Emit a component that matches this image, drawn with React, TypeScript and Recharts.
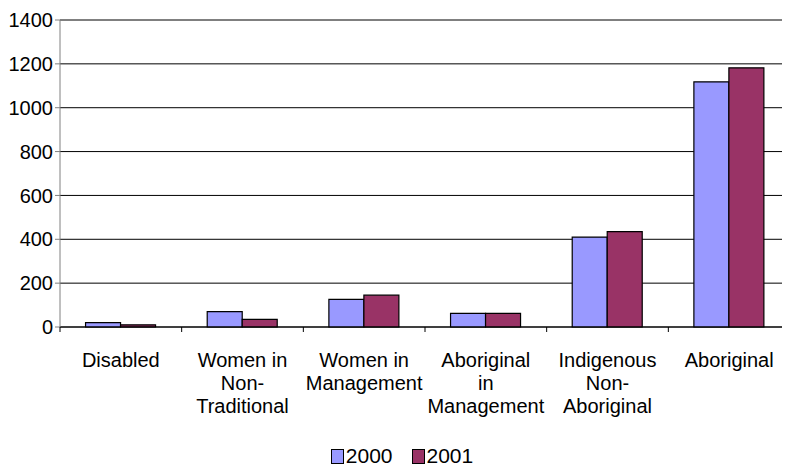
import { BarChart, Bar, XAxis, YAxis, CartesianGrid, Legend } from "recharts";

const categories = [
  "Disabled",
  "Women in Non-Traditional",
  "Women in Management",
  "Aboriginal in Management",
  "Indigenous Non-Aboriginal",
  "Aboriginal",
];
// how each category label breaks into lines under the axis
const categoryLines = [
  ["Disabled"],
  ["Women in", "Non-", "Traditional"],
  ["Women in", "Management"],
  ["Aboriginal", "in", "Management"],
  ["Indigenous", "Non-", "Aboriginal"],
  ["Aboriginal"],
];
const values2000 = [20, 70, 126, 62, 410, 1118];
const values2001 = [10, 35, 145, 62, 435, 1182];
const yTicks = [0, 200, 400, 600, 800, 1000, 1200, 1400];

const data = categories.map((name, i) => ({
  name,
  y2000: values2000[i],
  y2001: values2001[i],
}));

const FONT = "'Liberation Sans', Arial, sans-serif";
const W = 790;
const H = 469;
const PLOT_LEFT = 60;
const HALF_BAND = (W - PLOT_LEFT) / categories.length / 2;

const CategoryTick = (props: any) => {
  const { x, y, index, payload } = props;
  const lines: string[] = categoryLines[index] ?? [payload.value];
  const last = index === categories.length - 1;
  return (
    <g>
      <line x1={x - HALF_BAND} x2={x - HALF_BAND} y1={y} y2={y + 5} stroke="#000" />
      {last && <line x1={x + HALF_BAND} x2={x + HALF_BAND} y1={y} y2={y + 5} stroke="#000" />}
      <text x={x} y={y + 40} textAnchor="middle" fontSize={20} fontFamily={FONT} fill="#000">
        {lines.map((l, i) => (
          <tspan key={i} x={x} dy={i === 0 ? 0 : 23}>
            {l}
          </tspan>
        ))}
      </text>
    </g>
  );
};

const LegendBox = () => {
  const items = [
    { label: "2000", color: "#9999FF" },
    { label: "2001", color: "#993366" },
  ];
  return (
    <div
      style={{
        display: "flex",
        justifyContent: "center",
        gap: 19,
        fontFamily: FONT,
        fontSize: 21,
        lineHeight: "24px",
        height: 24,
        paddingLeft: 14,
      }}
    >
      {items.map((it) => (
        <div key={it.label} style={{ display: "flex", alignItems: "center", height: 24 }}>
          <span
            style={{
              display: "inline-block",
              width: 11,
              height: 13,
              background: it.color,
              border: "1px solid #000",
              marginRight: 2,
            }}
          />
          <span>{it.label}</span>
        </div>
      ))}
    </div>
  );
};

export default function App() {
  return (
    <div style={{ margin: "-8px 0 0 -8px", width: W, height: H, background: "#fff" }}>
      <BarChart
        width={W}
        height={H}
        data={data}
        margin={{ top: 20, right: 0, left: 0, bottom: 0 }}
        barCategoryGap="21%"
        barGap={0}
      >
        <CartesianGrid vertical={false} stroke="#000" />
        <XAxis
          dataKey="name"
          interval={0}
          height={118}
          axisLine={{ stroke: "#000" }}
          tickLine={false}
          tickSize={0}
          tickMargin={0}
          tick={<CategoryTick />}
        />
        <YAxis
          domain={[0, 1400]}
          ticks={yTicks}
          width={PLOT_LEFT}
          axisLine={{ stroke: "#808080" }}
          tickLine={{ stroke: "#808080" }}
          tickSize={5}
          tickMargin={2}
          tick={{ fontSize: 20, fontFamily: FONT, fill: "#000" }}
        />
        <Legend
          verticalAlign="bottom"
          height={24}
          wrapperStyle={{ top: 444, bottom: "auto", left: 0, width: W }}
          content={<LegendBox />}
        />
        <Bar dataKey="y2000" name="2000" fill="#9999FF" stroke="#000" strokeWidth={1.2} isAnimationActive={false} />
        <Bar dataKey="y2001" name="2001" fill="#993366" stroke="#000" strokeWidth={1.2} isAnimationActive={false} />
      </BarChart>
    </div>
  );
}
